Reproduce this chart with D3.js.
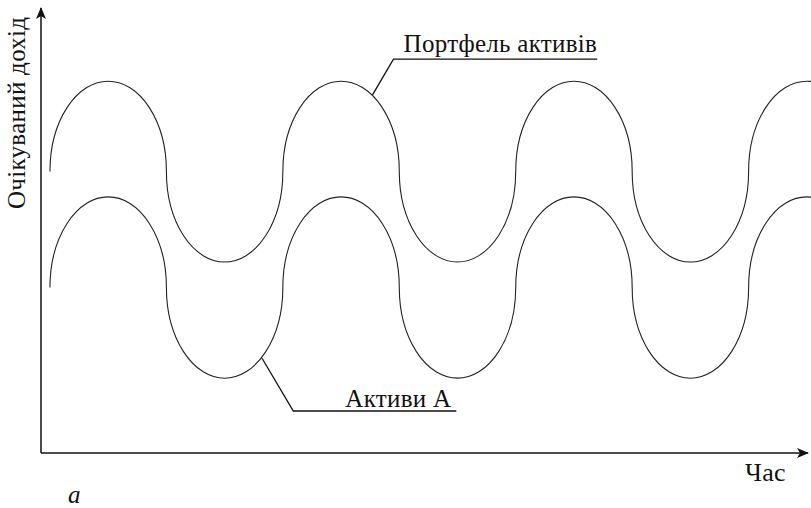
<!DOCTYPE html>
<html>
<head>
<meta charset="utf-8">
<script src="https://cdn.jsdelivr.net/npm/d3@7"></script>
<style>
  body { margin: 0; background: #fff; }
  svg { display: block; }
  text { font-family: "Liberation Serif", "Times New Roman", serif; fill: #111; letter-spacing: 0.3px; }
</style>
</head>
<body>
<div id="chart"></div>
<script>
// time at which each curve crosses its middle level (one unit = half a wave)
var crossings = [0, 1, 2, 3, 4, 5, 6, 7];

// expected return: middle level and the extreme of every half-wave
var portfolioMid = 6.4;
var portfolioExtremes = [8.45, 4.34, 8.45, 4.34, 8.45, 4.34, 8.45];
var assetMid = 3.76;
var assetExtremes = [5.82, 1.70, 5.82, 1.70, 5.82, 1.70, 5.82];

// leader lines: anchor on the curve, elbow, end of underline (time, value)
var labels = [
  { text: 'Портфель активів', pts: [[2.77, 8.14], [2.95, 8.95], [4.7, 8.95]], dx: 0, dy: -7 },
  { text: 'Активи А', pts: [[1.82, 2.16], [2.09, 0.955], [3.49, 0.955]], dx: -5, dy: -4 }
];

var width = 811, height = 508;
var svg = d3.select('#chart').append('svg')
  .attr('width', width)
  .attr('height', height);

var x = d3.scaleLinear().domain([-0.077, 6.51]).range([41, 808]);
var y = d3.scaleLinear().domain([0, 10]).range([453, 13]);

// axes with arrow heads
svg.append('defs').append('marker')
  .attr('id', 'arrow')
  .attr('viewBox', '0 0 12 10')
  .attr('refX', 11)
  .attr('refY', 5)
  .attr('markerWidth', 12)
  .attr('markerHeight', 10)
  .attr('markerUnits', 'userSpaceOnUse')
  .attr('orient', 'auto')
  .append('path')
  .attr('d', 'M0,0 L12,5 L0,10 L3,5 Z')
  .attr('fill', '#111');

svg.append('line')
  .attr('x1', x.range()[0]).attr('y1', y(0))
  .attr('x2', x.range()[0]).attr('y2', 8)
  .attr('stroke', '#111').attr('stroke-width', 1.5)
  .attr('marker-end', 'url(#arrow)');

svg.append('line')
  .attr('x1', x.range()[0]).attr('y1', y(0))
  .attr('x2', 808).attr('y2', y(0))
  .attr('stroke', '#111').attr('stroke-width', 1.5)
  .attr('marker-end', 'url(#arrow)');

// each half-wave is half of an ellipse between two crossings
function wavePath(mid, extremes){
  var d = 'M' + x(crossings[0]) + ',' + y(mid);
  extremes.forEach(function(ext, i){
    var x0 = x(crossings[i]), x1 = x(crossings[i + 1]);
    var rx = (x1 - x0) / 2;
    var ry = Math.abs(y(ext) - y(mid));
    var sweep = ext > mid ? 1 : 0;
    d += ' A' + rx + ',' + ry + ' 0 0 ' + sweep + ' ' + x1 + ',' + y(mid);
  });
  return d;
}

svg.append('path')
  .attr('d', wavePath(portfolioMid, portfolioExtremes))
  .attr('fill', 'none')
  .attr('stroke', '#222')
  .attr('stroke-width', 1.1);

svg.append('path')
  .attr('d', wavePath(assetMid, assetExtremes))
  .attr('fill', 'none')
  .attr('stroke', '#222')
  .attr('stroke-width', 1.1);

var line = d3.line()
  .x(function(d){ return x(d[0]); })
  .y(function(d){ return y(d[1]); });

labels.forEach(function(l){
  svg.append('path')
    .attr('d', line(l.pts))
    .attr('fill', 'none')
    .attr('stroke', '#111')
    .attr('stroke-width', 1.3);
  var end = l.pts[l.pts.length - 1];
  svg.append('text')
    .attr('x', x(end[0]) + l.dx)
    .attr('y', y(end[1]) + l.dy)
    .attr('text-anchor', 'end')
    .style('font-size', '25px')
    .text(l.text);
});

// axis titles
svg.append('text')
  .attr('transform', 'translate(25,209) rotate(-90)')
  .style('font-size', '25px')
  .text('Очікуваний дохід');

svg.append('text')
  .attr('x', 745)
  .attr('y', 481)
  .style('font-size', '26px')
  .text('Час');

svg.append('text')
  .attr('x', 68)
  .attr('y', 503)
  .style('font-size', '25px')
  .style('font-style', 'italic')
  .text('a');
</script>
</body>
</html>
